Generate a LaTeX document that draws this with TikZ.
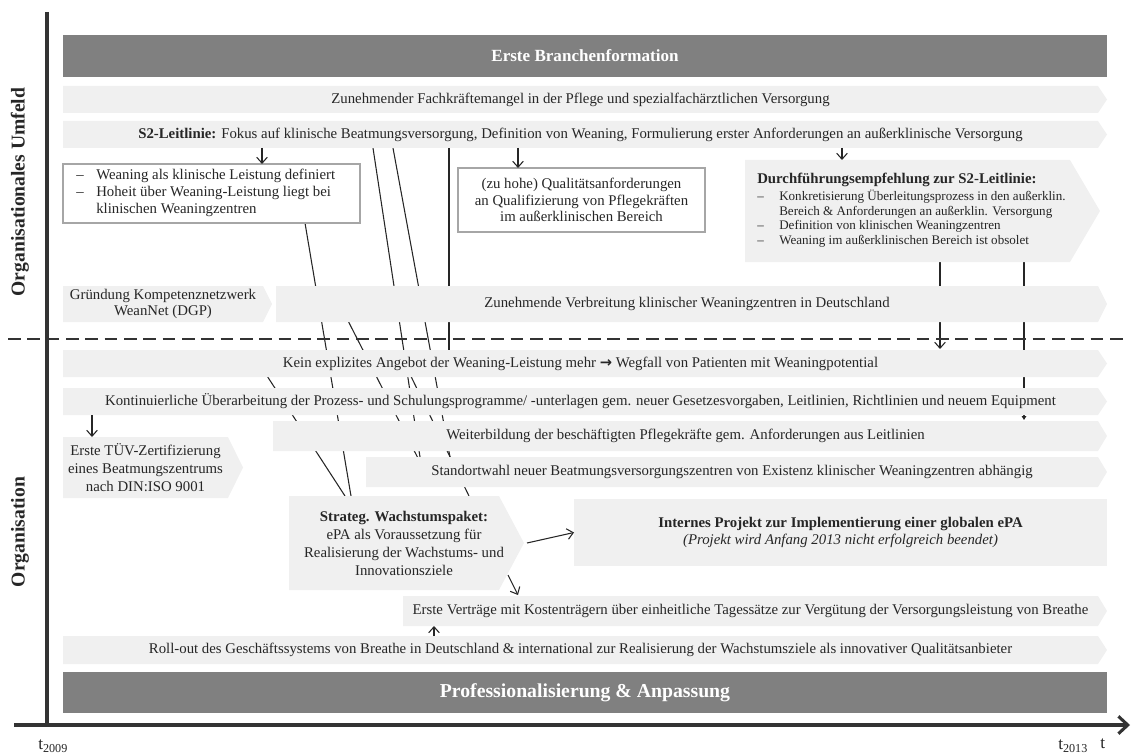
\documentclass[tikz,border=0pt]{standalone}
\usepackage{fontspec}
\setmainfont{Liberation Serif}
\newfontfamily\arrowfont{DejaVu Sans}
\usetikzlibrary{arrows.meta,calc}

\definecolor{bandgray}{HTML}{F0F0F0}
\definecolor{bargray}{HTML}{808080}
\definecolor{boxline}{HTML}{A6A6A6}
\definecolor{ink}{HTML}{262626}
\definecolor{axisgray}{HTML}{333333}

\pgfdeclarelayer{links}
\pgfdeclarelayer{fills}
\pgfsetlayers{links,fills,main}

\newcommand\bandfont{\fontsize{11.1}{12.75}\selectfont}
\newcommand\smallbandfont{\fontsize{9.8}{10.9}\selectfont}
\newcommand\sidefont{\fontsize{14.7}{17}\selectfont\bfseries}
\newcommand\thenarrow{{\arrowfont\bfseries\fontsize{11}{12}\selectfont →}}
% light grey band with a pointed right end
\newcommand\chevfill[2]{%
  \begin{pgfonlayer}{fills}
    \fill[bandgray] (#1.north west) -- (#1.north east) -- ($(#1.east)+(#2,0)$)
      -- (#1.south east) -- (#1.south west) -- cycle;
  \end{pgfonlayer}}

\begin{document}
\begin{tikzpicture}[x=0.75pt,y=-0.75pt,
  every node/.style={text=ink,font=\bandfont},
  area/.style 2 args={inner sep=0pt,outer sep=0pt,anchor=north west,
    minimum width=#1*0.75pt,minimum height=#2*0.75pt,align=center},
  phasebar/.style={fill=bargray,text=white},
  whitebox/.style={draw=boxline,fill=white,line width=0.9pt},
  link/.style={draw=ink,line width=0.8pt},
  arr/.style={link,-{Straight Barb[length=4.5pt,width=8pt]}},
  tinyarr/.style={link,-{Triangle[length=3pt,width=3.5pt]}},
  sidelabel/.style={rotate=90,font=\sidefont},
  timelabel/.style={anchor=west,inner sep=0pt,font=\fontsize{13}{15}\selectfont}
]
\useasboundingbox (0,0) rectangle (1131,756);

% ---- upper phase: environment ----
\node[area={1044}{42},phasebar,font=\fontsize{12.8}{15}\selectfont\bfseries] (phase1) at (63,35) {Erste Branchenformation};

\node[area={1035}{27}] (fach) at (63,86)
  {Zunehmender Fachkräftemangel in der Pflege und spezialfachärztlichen Versorgung};
\chevfill{fach}{9}

\node[area={1035}{27}] (s2) at (63,121)
  {\textbf{S2-Leitlinie:} Fokus auf klinische Beatmungsversorgung, Definition von Weaning, Formulierung erster Anforderungen an außerklinische Versorgung};
\chevfill{s2}{9}

\node[area={297}{59},whitebox] (weaning) at (63,164) {};
\node[anchor=west,inner sep=0pt] (weaningtext) at ($(weaning.west)+(13,0)$)
  {\begin{tabular}{@{}p{15pt}@{}l@{}}
   --&Weaning als klinische Leistung definiert\\
   --&Hoheit über Weaning-Leistung liegt bei\\
     &klinischen Weaningzentren
   \end{tabular}};

\node[area={247}{64},whitebox,font=\fontsize{11.1}{12.4}\selectfont] (zuhohe) at (458,168)
  {(zu hohe) Qualitätsanforderungen\\an Qualifizierung von Pflegekräften\\im außerklinischen Bereich};

\node[area={325}{102}] (durch) at (745,160) {};
\chevfill{durch}{30}
\node[anchor=west,inner sep=0pt,align=left] (durchtext) at ($(durch.west)+(12,0)$)
  {\textbf{Durchführungsempfehlung zur S2-Leitlinie:}\\
   {\smallbandfont\begin{tabular}[t]{@{}p{16.5pt}@{}l@{}}
   --&Konkretisierung Überleitungsprozess in den außerklin.\\
     &Bereich \& Anforderungen an außerklin. Versorgung\\
   --&Definition von klinischen Weaningzentren\\
   --&Weaning im außerklinischen Bereich ist obsolet
   \end{tabular}}};

\node[area={200}{36},font=\fontsize{11.1}{12}\selectfont] (gruendung) at (63,286) {Gründung Kompetenznetzwerk\\WeanNet (DGP)};
\chevfill{gruendung}{9}

\node[area={822}{36}] (verbreit) at (276,286)
  {Zunehmende Verbreitung klinischer Weaningzentren in Deutschland};
\chevfill{verbreit}{9}

% ---- lower phase: organisation ----
\node[area={1035}{27}] (kein) at (63,350)
  {Kein explizites Angebot der Weaning-Leistung mehr \thenarrow{} Wegfall von Patienten mit Weaningpotential};
\chevfill{kein}{9}

\node[area={1035}{27}] (konti) at (63,388)
  {Kontinuierliche Überarbeitung der Prozess- und Schulungsprogramme/ -unterlagen gem. neuer Gesetzesvorgaben, Leitlinien, Richtlinien und neuem Equipment};
\chevfill{konti}{9}

\node[area={165}{61},font=\fontsize{11.1}{13.5}\selectfont] (tuev) at (63,437)
  {Erste TÜV-Zertifizierung\\eines Beatmungszentrums\\nach DIN:ISO 9001};
\chevfill{tuev}{15}

\node[area={825}{30}] (weiter) at (273,421)
  {Weiterbildung der beschäftigten Pflegekräfte gem. Anforderungen aus Leitlinien};
\chevfill{weiter}{9}

\node[area={732}{30}] (standort) at (366,457)
  {Standortwahl neuer Beatmungsversorgungszentren von Existenz klinischer Weaningzentren abhängig};
\chevfill{standort}{9}

\node[area={210}{94}] (strat) at (289,496) {};
\chevfill{strat}{25}
\node[font=\fontsize{11.1}{13.5}\selectfont,align=center,inner sep=0pt] (strattext) at ($(strat.center)+(10,0)$)
  {\textbf{Strateg. Wachstumspaket:}\\ePA als Voraussetzung für\\Realisierung der Wachstums- und\\Innovationsziele};

\node[area={533}{67},fill=bandgray] (internes) at (574,499)
  {\textbf{Internes Projekt zur Implementierung einer globalen ePA}\\\textit{(Projekt wird Anfang 2013 nicht erfolgreich beendet)}};

\node[area={695}{30}] (vertraege) at (403,596)
  {Erste Verträge mit Kostenträgern über einheitliche Tagessätze zur Vergütung der Versorgungsleistung von Breathe};
\chevfill{vertraege}{9}

\node[area={1035}{28}] (rollout) at (63,636)
  {Roll-out des Geschäftssystems von Breathe in Deutschland \& international zur Realisierung der Wachstumsziele als innovativer Qualitätsanbieter};
\chevfill{rollout}{9}

\node[area={1044}{41},phasebar,font=\fontsize{14.8}{16}\selectfont\bfseries] (phase2) at (63,672) {Professionalisierung \& Anpassung};

% ---- side labels, axes, boundary ----
\node[sidelabel] (umfeld) at (20,192) {Organisationales Umfeld};
\node[sidelabel] (orga) at (20,532) {Organisation};

\coordinate (ytop) at (47,12);
\coordinate (ybot) at (47,726);
\coordinate (xleft) at (14,725);
\coordinate (xright) at (1130,725);
\draw[axisgray,line width=2.3pt] (ytop) -- (ybot);
\draw[axisgray,line width=2.3pt,-{Straight Barb[length=7pt,width=13pt]}] (xleft) -- (xright);

\coordinate (splitl) at (8,339);
\coordinate (splitr) at (1127,339);
\draw[axisgray,line width=1.1pt,dash pattern=on 9.5pt off 5pt] (splitl) -- (splitr);

\node[timelabel] (tstart) at (38,746) {t\textsubscript{2009}};
\node[timelabel] (tend) at (1058,746) {t\textsubscript{2013}};
\node[timelabel] (tvar) at (1100,744) {t};

% ---- influence lines, running behind the bands ----
\begin{pgfonlayer}{links}
\draw[link] ($(weaning.south west)+(242,0)$) -- ($(strat.north west)+(62,0)$);
\draw[link] ($(s2.south west)+(310,0)$) -- ($(standort.north west)+(54,0)$);
\draw[link] ($(s2.south west)+(330,0)$) -- ($(standort.north west)+(84,0)$);
\draw[link] ($(s2.south west)+(386,0)$) -- ($(kein.north west)+(386,10)$);
\draw[link] ($(verbreit.north west)+(64,19)$) -- ($(standort.north west)+(58,13)$);
\draw[link] ($(kein.north west)+(195,12)$) -- ($(strat.north west)+(56,0)$);
\draw[link] ($(kein.north west)+(342,14)$) -- ($(strat.north west)+(180,0)$);
\draw[arr] ($(durch.south west)+(195,0)$) -- ($(kein.north west)+(877,-1)$);
\draw[tinyarr] ($(durch.south west)+(279,0)$) -- ($(weiter.north west)+(751,-1)$);
\end{pgfonlayer}

% ---- short arrows between neighbouring items ----
\draw[arr] ($(s2.south west)+(199,0)$) -- ($(weaning.north west)+(199,0)$);
\draw[arr] ($(s2.south west)+(455,0)$) -- ($(zuhohe.north west)+(60,0)$);
\draw[arr] ($(s2.south west)+(779,0)$) -- ($(durch.north west)+(97,0)$);
\draw[arr] ($(konti.south west)+(29,0)$) -- ($(tuev.north west)+(29,0)$);
\draw[arr] ($(strat.east)+(28,0)$) -- (internes.west);
\draw[arr] ($(strat.south east)+(9,-15)$) -- ($(vertraege.north west)+(115,-1)$);
\draw[arr] ($(rollout.north west)+(371,0)$) -- ($(vertraege.south west)+(31,0)$);
\end{tikzpicture}
\end{document}
